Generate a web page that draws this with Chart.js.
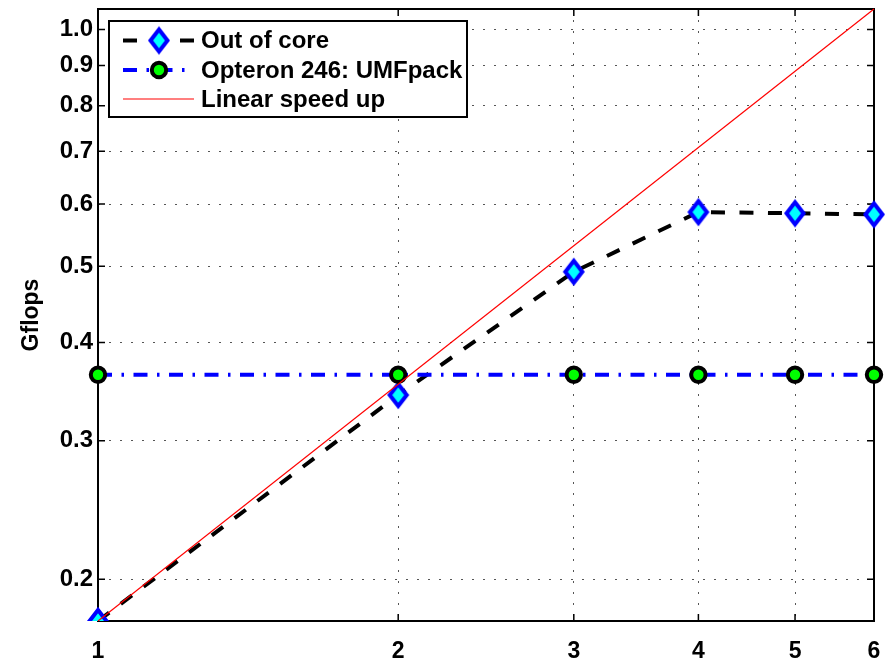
<!DOCTYPE html>
<html>
<head>
<meta charset="utf-8">
<script src="https://cdn.jsdelivr.net/npm/chart.js@4.4.1/dist/chart.umd.min.js"></script>
<style>
  html, body { margin: 0; padding: 0; background: #fff; }
  #wrap { width: 894px; height: 662px; }
</style>
</head>
<body>
<div id="wrap"><canvas id="c" width="894" height="662"></canvas></div>
<script>
// Processor counts and measured throughput (Gflops)
const processors = [1, 2, 3, 4, 5, 6];
const outOfCore = [0.177, 0.343, 0.492, 0.586, 0.584, 0.582];
const umfpack = [0.364, 0.364, 0.364, 0.364, 0.364, 0.364];
// Ideal scaling reference line (end points)
const linearX = [1, 6];
const linearY = [0.177, 1.062];

const xTicks = [1, 2, 3, 4, 5, 6];
const yTicks = [0.2, 0.3, 0.4, 0.5, 0.6, 0.7, 0.8, 0.9, 1.0];
const seriesNames = ['Out of core', 'Opteron 246: UMFpack', 'Linear speed up'];
const yTitle = 'Gflops';

const FONT_FAMILY = '"Liberation Sans", Arial, Helvetica, sans-serif';

// Diamond marker: cyan fill, thick blue outline, slightly taller than wide
function makeDiamond() {
  const cv = document.createElement('canvas');
  cv.width = 28; cv.height = 34;
  const g = cv.getContext('2d');
  const cx = 14, cy = 17, hw = 8.5, hh = 11;
  g.beginPath();
  g.moveTo(cx, cy - hh);
  g.lineTo(cx + hw, cy);
  g.lineTo(cx, cy + hh);
  g.lineTo(cx - hw, cy);
  g.closePath();
  g.fillStyle = '#00ffff';
  g.fill();
  g.lineWidth = 4;
  g.lineJoin = 'miter';
  g.strokeStyle = '#0000ff';
  g.stroke();
  return cv;
}
const diamond = makeDiamond();

const toPoints = (xs, ys) => xs.map((x, i) => ({ x: x, y: ys[i] }));
const bottomClip = { left: false, top: false, right: false, bottom: 0 };

const dsOutOfCore = {
  label: seriesNames[0],
  data: toPoints(processors, outOfCore),
  borderColor: '#000000',
  borderWidth: 4,
  borderDash: [14, 14.5],
  borderCapStyle: 'butt',
  pointStyle: diamond,
  pointRadius: 10,
  tension: 0,
  clip: bottomClip,
  order: 2
};
const dsUmf = {
  label: seriesNames[1],
  data: toPoints(processors, umfpack),
  borderColor: '#0000ff',
  borderWidth: 4,
  borderDash: [14, 9.5, 2.5, 9.5],
  borderCapStyle: 'butt',
  pointStyle: 'circle',
  pointRadius: 7.2,
  pointBorderWidth: 4,
  pointBackgroundColor: '#00ff00',
  pointBorderColor: '#000000',
  tension: 0,
  clip: bottomClip,
  order: 1
};
const dsLinear = {
  label: seriesNames[2],
  data: toPoints(linearX, linearY),
  borderColor: '#ff0000',
  borderWidth: 1.2,
  pointRadius: 0,
  tension: 0,
  clip: bottomClip,
  order: 0
};

// Axes frame with inward tick marks on all four sides
const framePlugin = {
  id: 'frame',
  beforeDatasetsDraw(chart) {
    const { ctx, chartArea: a, scales: { x, y } } = chart;
    ctx.save();
    ctx.strokeStyle = '#000';
    ctx.lineWidth = 1.5;
    ctx.beginPath();
    xTicks.forEach(v => {
      const px = x.getPixelForValue(v);
      ctx.moveTo(px, a.bottom); ctx.lineTo(px, a.bottom - 7);
      ctx.moveTo(px, a.top); ctx.lineTo(px, a.top + 7);
    });
    yTicks.forEach(v => {
      const py = y.getPixelForValue(v);
      ctx.moveTo(a.left, py); ctx.lineTo(a.left + 7, py);
      ctx.moveTo(a.right, py); ctx.lineTo(a.right - 7, py);
    });
    ctx.stroke();
    ctx.lineWidth = 2;
    ctx.strokeRect(a.left, a.top, a.right - a.left, a.bottom - a.top);
    ctx.restore();
  }
};

// Boxed legend in the upper-left corner of the plot area
const boxLegendPlugin = {
  id: 'boxLegend',
  afterDatasetsDraw(chart) {
    const { ctx, chartArea: a } = chart;
    const bx = a.left + 11, by = a.top + 12, bw = 358, bh = 96;
    const rowY = [19.5, 49, 78];
    const entries = [dsOutOfCore, dsUmf, dsLinear];
    ctx.save();
    ctx.fillStyle = '#fff';
    ctx.fillRect(bx, by, bw, bh);
    ctx.strokeStyle = '#000';
    ctx.lineWidth = 2;
    ctx.strokeRect(bx, by, bw, bh);

    entries.forEach((ds, i) => {
      const cy = by + rowY[i];
      const x0 = bx + 14, x1 = bx + 85, mx = bx + 50;
      ctx.save();
      ctx.strokeStyle = ds.borderColor;
      ctx.lineWidth = ds.borderWidth;
      ctx.lineCap = 'butt';
      ctx.setLineDash(ds.borderDash || []);
      ctx.beginPath();
      ctx.moveTo(x0, cy);
      ctx.lineTo(x1, cy);
      ctx.stroke();
      ctx.setLineDash([]);
      if (ds.pointStyle === diamond) {
        ctx.drawImage(diamond, mx - diamond.width / 2, cy - diamond.height / 2);
      } else if (ds.pointRadius > 0) {
        ctx.beginPath();
        ctx.arc(mx, cy, ds.pointRadius, 0, Math.PI * 2);
        ctx.fillStyle = ds.pointBackgroundColor;
        ctx.fill();
        ctx.lineWidth = ds.pointBorderWidth;
        ctx.strokeStyle = ds.pointBorderColor;
        ctx.stroke();
      }
      ctx.restore();

      ctx.fillStyle = '#000';
      ctx.font = 'bold 24px ' + FONT_FAMILY;
      ctx.textAlign = 'left';
      ctx.textBaseline = 'middle';
      ctx.fillText(ds.label, bx + 92, cy + 1);
    });
    ctx.restore();
  }
};

new Chart(document.getElementById('c'), {
  type: 'line',
  data: { datasets: [dsOutOfCore, dsUmf, dsLinear] },
  options: {
    responsive: false,
    animation: false,
    events: [],
    devicePixelRatio: 1,
    layout: { autoPadding: false, padding: { left: 0, top: 9, right: 20, bottom: 0 } },
    plugins: { legend: { display: false }, tooltip: { enabled: false } },
    scales: {
      x: {
        type: 'logarithmic',
        min: 1,
        max: 6,
        bounds: 'data',
        afterBuildTicks: s => { s.ticks = xTicks.map(v => ({ value: v })); },
        afterFit: s => { s.height = 41; s.paddingLeft = 0; s.paddingRight = 0; },
        ticks: {
          callback: v => String(v),
          font: { family: FONT_FAMILY, size: 23, weight: 'bold' },
          color: '#000',
          padding: 17,
          maxRotation: 0,
          autoSkip: false
        },
        grid: { color: '#555', lineWidth: 1, drawTicks: false },
        border: { display: false, dash: [2, 9] }
      },
      y: {
        type: 'logarithmic',
        min: 0.177,
        max: 1.062,
        bounds: 'data',
        afterBuildTicks: s => { s.ticks = yTicks.map(v => ({ value: v })); },
        afterFit: s => { s.width = 98; s.paddingTop = 0; s.paddingBottom = 0; },
        ticks: {
          callback: v => Number(v).toFixed(1),
          font: { family: FONT_FAMILY, size: 24, weight: 'bold' },
          color: '#000',
          padding: 5,
          autoSkip: false
        },
        title: {
          display: true,
          text: yTitle,
          color: '#000',
          font: { family: FONT_FAMILY, size: 23, weight: 'bold' },
          padding: { top: 18, bottom: 0 }
        },
        grid: { color: '#555', lineWidth: 1, drawTicks: false },
        border: { display: false, dash: [2, 9] }
      }
    }
  },
  plugins: [framePlugin, boxLegendPlugin]
});
</script>
</body>
</html>
